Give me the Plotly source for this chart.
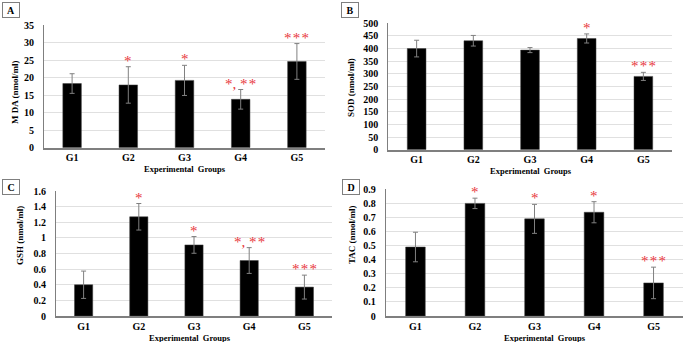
import plotly.graph_objects as go

groups = ["G1", "G2", "G3", "G4", "G5"]

mda_mean = [18.3, 17.9, 19.2, 13.8, 24.6]
mda_err = [2.8, 5.2, 4.3, 2.8, 5.1]
mda_sig = ["", "*", "*", "*, **", "***"]

sod_mean = [400, 431, 394, 440, 290]
sod_err = [33, 21, 10, 18, 16]
sod_sig = ["", "", "", "*", "***"]

gsh_mean = [0.40, 1.27, 0.91, 0.71, 0.37]
gsh_err = [0.175, 0.17, 0.107, 0.165, 0.153]
gsh_sig = ["", "*", "*", "*, **", "***"]

tac_mean = [0.49, 0.80, 0.69, 0.737, 0.235]
tac_err = [0.105, 0.037, 0.103, 0.075, 0.112]
tac_sig = ["", "*", "*", "*", "***"]

panels = [
    dict(letter="A", ytitle="M DA (nmol/ml)", mean=mda_mean, err=mda_err, sig=mda_sig,
         rng=[0, 35], dtick=5, xd=[44/685, 325/685], yd=[1-147.7/342, 1-25/342],
         box=(10.5, 10.5), yt=(15, 92), xt=(185, 168.5)),
    dict(letter="B", ytitle="SOD (nmol/ml)", mean=sod_mean, err=sod_err, sig=sod_sig,
         rng=[0, 500], dtick=50, xd=[388.3/685, 671.7/685], yd=[1-149.7/342, 1-23.3/342],
         box=(350, 10.5), yt=(351, 88), xt=(531, 171)),
    dict(letter="C", ytitle="GSH (nmol/ml)", mean=gsh_mean, err=gsh_err, sig=gsh_sig,
         rng=[0, 1.6], dtick=0.2, xd=[56/685, 332/685], yd=[1-316/342, 1-191/342],
         box=(11, 187), yt=(20, 236), xt=(190, 337.5)),
    dict(letter="D", ytitle="TAC (nmol/ml)", mean=tac_mean, err=tac_err, sig=tac_sig,
         rng=[0, 0.9], dtick=0.1, xd=[385.7/685, 683.3/685], yd=[1-316/342, 1-189.3/342],
         box=(350.5, 187), yt=(352, 235), xt=(545, 337.5)),
]


def spaced(s):
    out = ""
    for k, ch in enumerate(s):
        out += ch
        if ch == "*" and k + 1 < len(s) and s[k + 1] == "*":
            out += "\u200a"
    return out


W, H = 685, 342
serif = "Liberation Serif"
fig = go.Figure()
annotations = []
layout = dict(width=W, height=H, margin=dict(l=0, r=0, t=0, b=0, autoexpand=False),
              paper_bgcolor="white", plot_bgcolor="white", showlegend=False,
              font=dict(family=serif, color="black"))

for i, p in enumerate(panels):
    n = "" if i == 0 else str(i + 1)
    xa, ya = "x" + n, "y" + n
    fig.add_trace(go.Bar(
        x=groups, y=p["mean"], xaxis=xa, yaxis=ya, width=0.33,
        marker=dict(color="black", line=dict(color="#404040", width=0.5)),
        error_y=dict(type="data", array=p["err"], color="#808080", thickness=1, width=2.5),
    ))
    layout["xaxis" + n] = dict(domain=p["xd"], anchor=ya, showgrid=False, showline=True,
                               linecolor="#7f7f7f", linewidth=1.5, ticks="",
                               tickfont=dict(family=serif, size=10, color="black", weight="bold"),
                               ticklabelstandoff=0, fixedrange=True, automargin=False)
    layout["yaxis" + n] = dict(domain=p["yd"], anchor=xa, range=p["rng"], dtick=p["dtick"],
                               showgrid=True, gridcolor="#e0e0e0", gridwidth=1,
                               showline=True, linecolor="#7f7f7f", linewidth=1, ticks="",
                               zeroline=False, automargin=False,
                               tickfont=dict(family=serif, size=10, color="black", weight="bold"),
                               ticklabelstandoff=7, fixedrange=True)
    for g, m, e, s in zip(groups, p["mean"], p["err"], p["sig"]):
        if s:
            annotations.append(dict(x=g, y=m + e, xref=xa, yref=ya,
                                    text=spaced(s), showarrow=False,
                                    yanchor="bottom", yshift=-4,
                                    font=dict(family=serif, size=15, color="#e8383d")))
    bx, by = p["box"]
    annotations.append(dict(x=bx / W, y=1 - by / H, xref="paper", yref="paper",
                            text="<b>" + p["letter"] + "</b>", showarrow=False,
                            xanchor="center", yanchor="middle", width=14, height=12,
                            bordercolor="#7f7f7f", borderwidth=1, borderpad=1,
                            bgcolor="white", font=dict(family=serif, size=10, color="black")))
    tx, ty = p["yt"]
    annotations.append(dict(x=tx / W, y=1 - ty / H, xref="paper", yref="paper",
                            text="<b>" + p["ytitle"] + "</b>", showarrow=False, textangle=-90,
                            xanchor="center", yanchor="middle",
                            font=dict(family=serif, size=9, color="black")))
    gx, gy = p["xt"]
    annotations.append(dict(x=gx / W, y=1 - gy / H, xref="paper", yref="paper",
                            text="<b>Experimental  Groups</b>", showarrow=False,
                            xanchor="center", yanchor="middle",
                            font=dict(family=serif, size=8.5, color="black")))

layout["annotations"] = annotations
fig.update_layout(**layout)
fig.write_html("out.html", config={"displayModeBar": False},
               post_script="document.body.style.margin='0';document.body.style.overflow='hidden';")
